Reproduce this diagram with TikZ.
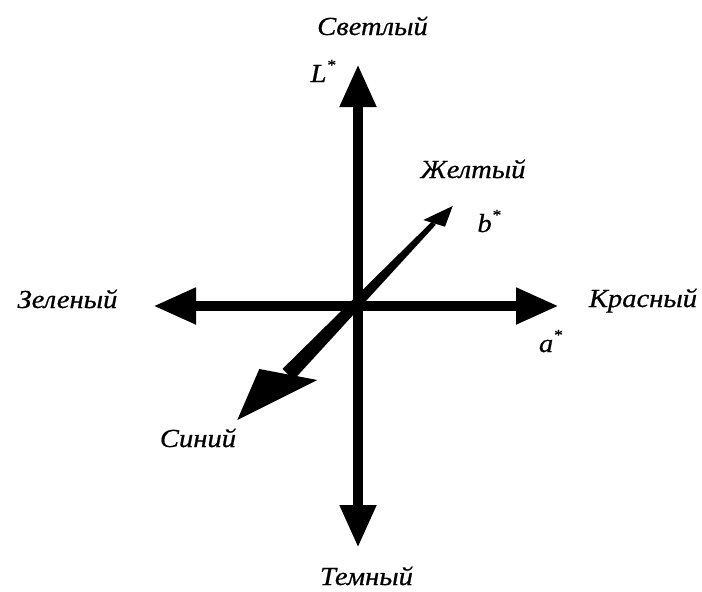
\documentclass[tikz,border=0pt]{standalone}
\usepackage{fontspec}
\setmainfont{Liberation Serif}[ItalicFeatures={FakeBold=0.6,FakeStretch=1.1}]
\usetikzlibrary{arrows.meta}
\tikzset{
  lbl/.style={anchor=base, inner sep=0pt, font=\fontsize{26}{30}\selectfont\itshape},
  axisline/.style={line width=10.5pt, {Triangle[length=43pt,width=34pt]}-{Triangle[length=43pt,width=34pt]}}
}
\newcommand{\supstar}{\raisebox{0.45em}{\fontsize{16}{16}\selectfont *}}
\begin{document}
\begin{tikzpicture}[x=1pt,y=-1pt]
\useasboundingbox (0,0) rectangle (702,592);
% axes
\coordinate (Ltop) at (358,64);
\coordinate (Lbot) at (358,548);
\coordinate (aleft) at (153,306);
\coordinate (aright) at (559,306);
\draw[axisline] (Lbot) -- (Ltop);
\draw[axisline] (aleft) -- (aright);
% b* axis (perspective)
\coordinate (bt1) at (435.75,224.8);
\coordinate (bt2) at (432.25,221.2);
\coordinate (bb1) at (293.5,380.1);
\coordinate (bb2) at (282.5,368.9);
\fill (bt1) -- (bt2) -- (bb2) -- (bb1) -- cycle;
\coordinate (ytip) at (452.7,206);
\coordinate (yc1) at (423.3,220);
\coordinate (yc2) at (445,226.7);
\fill (ytip) -- (yc1) -- (yc2) -- cycle;
\coordinate (btip) at (237.3,420);
\coordinate (bc1) at (259.3,369);
\coordinate (bc2) at (317.3,380);
\fill (btip) -- (bc1) -- (bc2) -- cycle;
% labels
\node[lbl] (light) at (372.5,35) {Светлый};
\node[lbl] (Lst) at (323,82) {L\supstar};
\node[lbl] (yellow) at (473,178) {Желтый};
\node[lbl] (bst) at (489,232) {b\supstar};
\node[lbl] (green) at (67.5,308) {Зеленый};
\node[lbl] (red) at (643,307) {Красный};
\node[lbl] (ast) at (550.5,352) {a\supstar};
\node[lbl] (blue) at (198,447) {Синий};
\node[lbl] (dark) at (366.5,585) {Темный};
\end{tikzpicture}
\end{document}
